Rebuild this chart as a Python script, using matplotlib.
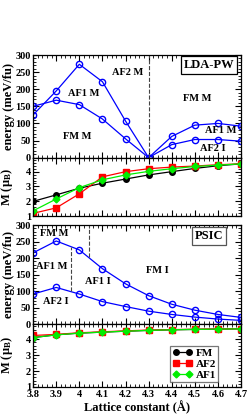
import numpy as np
import matplotlib
matplotlib.use("Agg")
import matplotlib.pyplot as plt
from matplotlib.ticker import MultipleLocator, FormatStrFormatter

plt.rcParams['font.family'] = ['Liberation Serif', 'DejaVu Serif']
plt.rcParams['font.weight'] = 'bold'
plt.rcParams['mathtext.fontset'] = 'custom'
plt.rcParams['mathtext.rm'] = 'Liberation Serif:bold'
plt.rcParams['mathtext.it'] = 'Liberation Serif:bold'

# Lattice constants
lattice = [3.8, 3.9, 4.0, 4.1, 4.2, 4.3, 4.4, 4.5, 4.6, 4.7]

# LDA-PW energies (meV/fu)
lda_e_upper = [125, 195, 273, 222, 107, 0, 62, 95, 100, 92]
lda_e_lower = [150, 168, 155, 113, 55, 0, 38, 53, 53, 48]

# LDA-PW moments
lda_m_fm = [1.99, 2.43, 2.88, 3.22, 3.5, 3.78, 4.0, 4.22, 4.4, 4.53]
lda_m_af2 = [1.18, 1.55, 2.5, 3.65, 4.0, 4.2, 4.31, 4.38, 4.47, 4.53]
lda_m_af1 = [1.35, 2.15, 2.92, 3.45, 3.78, 4.02, 4.2, 4.35, 4.44, 4.53]

# PSIC energies (meV/fu)
psic_e_upper = [216, 252, 225, 168, 122, 86, 60, 42, 29, 20]
psic_e_lower = [91, 111, 91, 68, 53, 39, 29, 21, 15, 11]

# PSIC moments
psic_m_fm = [4.1, 4.27, 4.38, 4.44, 4.5, 4.55, 4.59, 4.61, 4.63, 4.65]
psic_m_af2 = [4.23, 4.3, 4.4, 4.46, 4.52, 4.57, 4.6, 4.62, 4.64, 4.66]
psic_m_af1 = [4.1, 4.27, 4.38, 4.44, 4.5, 4.55, 4.59, 4.61, 4.63, 4.65]

fig = plt.figure(figsize=(2.49, 4.17), dpi=100)
L, R = 0.133, 0.968
ax1 = fig.add_axes([L, 0.622, R - L, 0.246])
ax2 = fig.add_axes([L, 0.482, R - L, 0.140])
ax3 = fig.add_axes([L, 0.223, R - L, 0.237])
ax4 = fig.add_axes([L, 0.072, R - L, 0.151])

blue = '#0000ff'
ekw = dict(color=blue, marker='o', mfc='none', mec=blue, ms=4.5, lw=0.9, mew=1.0)

# energy panels
ax1.plot(lattice, lda_e_upper, **ekw)
ax1.plot(lattice, lda_e_lower, **ekw)
ax1.plot([4.3, 4.3], [0, 300], color='#444444', ls='--', lw=0.8)

ax3.plot(lattice, psic_e_upper, **ekw)
ax3.plot(lattice, psic_e_lower, **ekw)
ax3.plot([3.963, 3.963], [99, 234], color='#444444', ls='--', lw=0.8)
ax3.plot([4.04, 4.04], [204, 300], color='#444444', ls='--', lw=0.8)

# moment panels
def moments(ax, fm, af2, af1):
    ax.plot(lattice, fm, color='black', marker='o', ms=4, lw=0.9, label='FM')
    ax.plot(lattice, af2, color='#ff0000', marker='s', ms=3.8, lw=0.9, label='AF2')
    ax.plot(lattice, af1, color='#00ee00', marker='D', ms=3.5, lw=0.9, label='AF1')

moments(ax2, lda_m_fm, lda_m_af2, lda_m_af1)
moments(ax4, psic_m_fm, psic_m_af2, psic_m_af1)

for ax in (ax1, ax3):
    ax.set_ylim(0, 300)
    ax.yaxis.set_major_locator(MultipleLocator(50))
    ax.yaxis.set_minor_locator(MultipleLocator(10))
for ax in (ax2, ax4):
    ax.set_ylim(1, 4.95)
    ax.set_yticks([1, 2, 3, 4])
    ax.yaxis.set_minor_locator(MultipleLocator(0.2))

for ax in (ax1, ax2, ax3, ax4):
    ax.set_xlim(3.8, 4.7)
    ax.xaxis.set_major_locator(MultipleLocator(0.1))
    ax.xaxis.set_minor_locator(MultipleLocator(0.02))
    ax.xaxis.set_major_formatter(FormatStrFormatter('%g'))
    ax.tick_params(which='both', direction='in', top=True, right=True,
                   labelsize=7.5, pad=1.5)
    ax.tick_params(which='major', length=4, width=0.8)
    ax.tick_params(which='minor', length=2, width=0.6)
    for s in ax.spines.values():
        s.set_linewidth(0.9)
    for lab in ax.get_yticklabels() + ax.get_xticklabels():
        lab.set_fontweight('bold')

for ax in (ax1, ax2, ax3):
    ax.tick_params(labelbottom=False)
ax4.tick_params(axis='x', pad=2.5)

# labels in energy panels
tkw = dict(fontsize=7.5, fontweight='bold', ha='center', va='center')
ax1.text(4.21, 249, 'AF2 M', **tkw)
ax1.text(4.02, 187, 'AF1 M', **tkw)
ax1.text(3.99, 61, 'FM M', **tkw)
ax1.text(4.51, 172, 'FM M', **tkw)
ax1.text(4.61, 78, 'AF1 M', **tkw)
ax1.text(4.58, 28, 'AF2 I', **tkw)

ax3.text(3.89, 275, 'FM M', **tkw)
ax3.text(3.88, 176, 'AF1 M', **tkw)
ax3.text(4.08, 129, 'AF1 I', **tkw)
ax3.text(4.34, 162, 'FM I', **tkw)
ax3.text(3.9, 68, 'AF2 I', **tkw)

bkw = dict(fontsize=9, fontweight='bold', ha='center', va='center',
           bbox=dict(boxstyle='square,pad=0.25', fc='white', ec='black', lw=0.9))
ax1.text(0.846, 0.9, 'LDA-PW', transform=ax1.transAxes, **bkw)
ax3.text(0.846, 0.894, 'PSIC', transform=ax3.transAxes,
         **{**bkw, 'bbox': dict(boxstyle='square,pad=0.25', fc='white',
                                 ec='#555555', lw=0.9)})

# axis labels
ax1.set_ylabel('energy (meV/fu)', fontsize=9, fontweight='bold')
ax3.set_ylabel('energy (meV/fu)', fontsize=9, fontweight='bold')
ax2.set_ylabel(r'M ($\mu_\mathrm{B}$)', fontsize=9, fontweight='bold')
ax4.set_ylabel(r'M ($\mu_\mathrm{B}$)', fontsize=9, fontweight='bold')
for ax in (ax1, ax2, ax3, ax4):
    ax.yaxis.set_label_coords(-0.085, 0.5)
ax4.set_xlabel('Lattice constant (Å)', fontsize=9, fontweight='bold', labelpad=1)

leg = ax4.legend(loc='upper left', bbox_to_anchor=(0.66, 0.65), numpoints=2,
                 fontsize=8, frameon=True, fancybox=False, handlelength=1.8,
                 handletextpad=0.3, borderpad=0.2, labelspacing=0.1,
                 borderaxespad=0)
leg.get_frame().set_edgecolor('#555555')
leg.get_frame().set_linewidth(0.9)
for t in leg.get_texts():
    t.set_fontweight('bold')

fig.savefig('out.png', dpi=100)
